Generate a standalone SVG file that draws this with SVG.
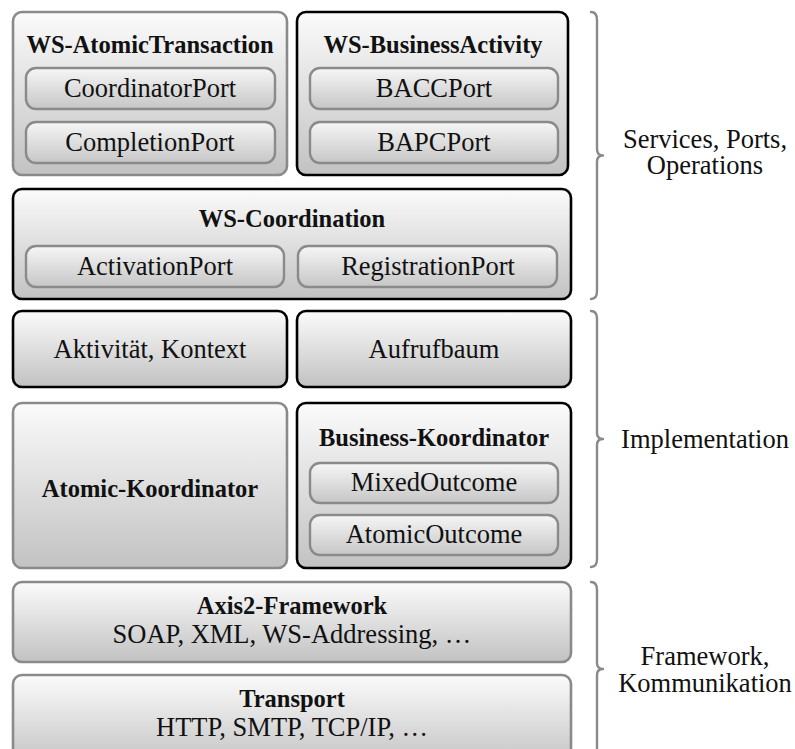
<svg xmlns="http://www.w3.org/2000/svg" width="795" height="749" viewBox="0 0 795 749">
  <defs>
    <linearGradient id="boxFill" x1="0" y1="0" x2="0" y2="1">
      <stop offset="0" stop-color="#fbfbfb"/>
      <stop offset="1" stop-color="#c2c2c2"/>
    </linearGradient>
    <linearGradient id="portFill" x1="0" y1="0" x2="0" y2="1">
      <stop offset="0" stop-color="#f6f6f6"/>
      <stop offset="1" stop-color="#c6c6c6"/>
    </linearGradient>
  </defs>
  <style>
    .box { fill: url(#boxFill); stroke-width: 2.6; }
    .dark { stroke: #000; }
    .grey { stroke: #8a8a8a; }
    .port { fill: url(#portFill); stroke: #8a8a8a; stroke-width: 2.4; }
    text { font-family: "Liberation Serif", "Times New Roman", serif; fill: #111; text-anchor: middle; }
    .t { font-size: 26.5px; }
    .b { font-size: 24.5px; font-weight: bold; }
    .brace { fill: none; stroke: #8a8a8a; stroke-width: 2.4; stroke-linecap: round; stroke-linejoin: round; }
  </style>

  <!-- service layer -->
  <g id="ws-atomictransaction">
    <rect class="box grey" x="13" y="12" width="274" height="163" rx="9"/>
    <text class="b" x="150" y="53">WS-AtomicTransaction</text>
    <rect class="port" x="26" y="68" width="249" height="41" rx="10"/>
    <text class="t" x="150" y="97">CoordinatorPort</text>
    <rect class="port" x="26" y="122" width="249" height="41" rx="10"/>
    <text class="t" x="150" y="151">CompletionPort</text>
  </g>

  <g id="ws-businessactivity">
    <rect class="box dark" x="297" y="12" width="271" height="163" rx="9"/>
    <text class="b" x="433" y="53">WS-BusinessActivity</text>
    <rect class="port" x="310" y="68" width="248" height="41" rx="10"/>
    <text class="t" x="434" y="97">BACCPort</text>
    <rect class="port" x="310" y="122" width="248" height="41" rx="10"/>
    <text class="t" x="434" y="151">BAPCPort</text>
  </g>

  <g id="ws-coordination">
    <rect class="box dark" x="13" y="189" width="558" height="110" rx="9"/>
    <text class="b" x="292" y="227">WS-Coordination</text>
    <rect class="port" x="26" y="246" width="258" height="41" rx="10"/>
    <text class="t" x="155" y="275">ActivationPort</text>
    <rect class="port" x="298" y="246" width="259" height="41" rx="10"/>
    <text class="t" x="428" y="275">RegistrationPort</text>
  </g>

  <!-- implementation layer -->
  <g id="aktivitaet-kontext">
    <rect class="box dark" x="13" y="311" width="274" height="76" rx="9"/>
    <text class="t" x="150" y="358">Aktivität, Kontext</text>
  </g>

  <g id="aufrufbaum">
    <rect class="box dark" x="297" y="311" width="274" height="76" rx="9"/>
    <text class="t" x="434" y="358">Aufrufbaum</text>
  </g>

  <g id="atomic-koordinator">
    <rect class="box grey" x="13" y="403" width="274" height="165" rx="9"/>
    <text class="b" x="150" y="497">Atomic-Koordinator</text>
  </g>

  <g id="business-koordinator">
    <rect class="box dark" x="297" y="403" width="274" height="165" rx="9"/>
    <text class="b" x="434" y="446">Business-Koordinator</text>
    <rect class="port" x="310" y="463" width="248" height="40" rx="10"/>
    <text class="t" x="434" y="491">MixedOutcome</text>
    <rect class="port" x="310" y="515" width="248" height="40" rx="10"/>
    <text class="t" x="434" y="543">AtomicOutcome</text>
  </g>

  <!-- framework layer -->
  <g id="axis2-framework">
    <rect class="box grey" x="13" y="582" width="558" height="80" rx="9"/>
    <text class="b" x="292" y="614">Axis2-Framework</text>
    <text class="t" x="292" y="643">SOAP, XML, WS-Addressing, …</text>
  </g>

  <g id="transport">
    <rect class="box grey" x="13" y="675" width="558" height="92" rx="9"/>
    <text class="b" x="292" y="707">Transport</text>
    <text class="t" x="292" y="736">HTTP, SMTP, TCP/IP, …</text>
  </g>

  <!-- layer braces -->
  <g id="braces">
    <path class="brace" d="M591 12 Q597 12 597 20 L597 149 Q597 155.5 603 155.5 Q597 155.5 597 162 L597 291 Q597 299 591 299"/>
    <path class="brace" d="M591 311 Q597 311 597 319 L597 433 Q597 439 603 439 Q597 439 597 445 L597 559 Q597 567 591 567"/>
    <path class="brace" d="M591 582 Q597 582 597 590 L597 663 Q597 669 603 669 Q597 669 597 675 L597 750"/>
  </g>

  <g id="layer-labels">
    <text class="t" x="705" y="148"><tspan x="705">Services, Ports,</tspan><tspan x="705" dy="26">Operations</tspan></text>
    <text class="t" x="705" y="448">Implementation</text>
    <text class="t" x="705" y="665"><tspan x="705">Framework,</tspan><tspan x="705" dy="27">Kommunikation</tspan></text>
  </g>
</svg>
